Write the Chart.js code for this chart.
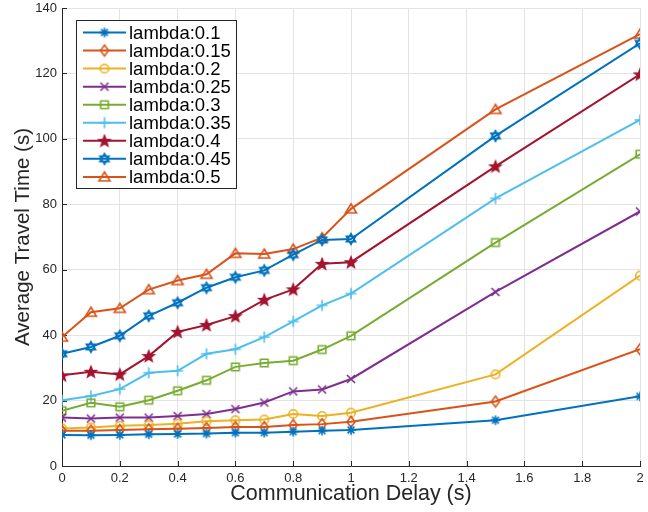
<!DOCTYPE html>
<html>
<head>
<meta charset="utf-8">
<script src="https://cdn.jsdelivr.net/npm/chart.js@4.4.1/dist/chart.umd.min.js"></script>
<style>
  body { margin: 0; background: #fff; }
  #c { display: block; }
</style>
</head>
<body>
<canvas id="c" width="648" height="512"></canvas>
<script>
// Data
const delays = [0, 0.1, 0.2, 0.3, 0.4, 0.5, 0.6, 0.7, 0.8, 0.9, 1.0, 1.5, 2.0];
const lambda010 = [9.5, 9.4, 9.5, 9.7, 9.8, 9.9, 10.2, 10.2, 10.5, 10.8, 11.0, 14.0, 21.3];
const lambda015 = [10.8, 10.8, 11.0, 11.2, 11.4, 11.6, 11.9, 11.9, 12.5, 12.8, 13.5, 19.7, 35.7];
const lambda020 = [11.5, 11.8, 12.3, 12.5, 12.9, 13.7, 14.0, 14.2, 15.9, 15.3, 16.3, 28.0, 58.2];
const lambda025 = [14.8, 14.5, 14.8, 14.8, 15.3, 15.9, 17.4, 19.4, 22.8, 23.4, 26.6, 53.2, 77.8];
const lambda030 = [16.9, 19.3, 18.1, 20.1, 23.0, 26.2, 30.3, 31.5, 32.2, 35.6, 39.8, 68.3, 95.3];
const lambda035 = [20.1, 21.4, 23.5, 28.5, 29.1, 34.3, 35.7, 39.4, 44.2, 49.1, 52.7, 81.8, 105.8];
const lambda040 = [27.7, 28.8, 28.0, 33.6, 41.0, 43.1, 45.8, 50.8, 54.0, 61.8, 62.3, 91.6, 119.7];
const lambda045 = [34.3, 36.4, 39.8, 45.9, 49.9, 54.5, 57.7, 59.8, 64.6, 69.1, 69.4, 100.9, 129.2];
const lambda050 = [39.4, 47.0, 48.2, 53.9, 56.7, 58.6, 65.0, 64.8, 66.3, 69.8, 78.6, 109.0, 132.0];

const seriesLabels = ['lambda:0.1', 'lambda:0.15', 'lambda:0.2', 'lambda:0.25', 'lambda:0.3',
                      'lambda:0.35', 'lambda:0.4', 'lambda:0.45', 'lambda:0.5'];
const seriesValues = [lambda010, lambda015, lambda020, lambda025, lambda030,
                      lambda035, lambda040, lambda045, lambda050];

const xTicks = [0, 0.2, 0.4, 0.6, 0.8, 1, 1.2, 1.4, 1.6, 1.8, 2];
const yTicks = [0, 20, 40, 60, 80, 100, 120, 140];

const colors = ['#0072BD', '#D95319', '#EDB120', '#7E2F8E', '#77AC30',
                '#4DBEEE', '#A2142F', '#0072BD', '#D95319'];
const markers = ['asterisk', 'diamond', 'circle', 'x', 'square', 'plus', 'pentagram', 'hexagram', 'triangle'];

const FONT = '"Liberation Sans", Arial, Helvetica, sans-serif';
const AXIS_COLOR = '#262626';

// MATLAB-like marker sprites
function makeMarker(type, color) {
    const s = 16;
    const cv = document.createElement('canvas');
    cv.width = s; cv.height = s;
    const g = cv.getContext('2d');
    const c = s / 2;
    g.strokeStyle = color;
    g.fillStyle = color;
    g.lineWidth = 1.6;
    g.lineJoin = 'miter';
    g.beginPath();
    if (type === 'asterisk') {
        const r = 4.8;
        for (let k = 0; k < 4; k++) {
            const a = k * Math.PI / 4;
            g.moveTo(c - r * Math.cos(a), c - r * Math.sin(a));
            g.lineTo(c + r * Math.cos(a), c + r * Math.sin(a));
        }
        g.stroke();
    } else if (type === 'diamond') {
        g.moveTo(c, c - 5.5); g.lineTo(c + 4, c); g.lineTo(c, c + 5.5); g.lineTo(c - 4, c); g.closePath();
        g.stroke();
    } else if (type === 'circle') {
        g.arc(c, c, 4.3, 0, Math.PI * 2);
        g.stroke();
    } else if (type === 'x') {
        const r = 4;
        g.moveTo(c - r, c - r); g.lineTo(c + r, c + r);
        g.moveTo(c + r, c - r); g.lineTo(c - r, c + r);
        g.stroke();
    } else if (type === 'square') {
        g.rect(c - 3.8, c - 3.8, 7.6, 7.6);
        g.stroke();
    } else if (type === 'plus') {
        const r = 5.5;
        g.moveTo(c - r, c); g.lineTo(c + r, c);
        g.moveTo(c, c - r); g.lineTo(c, c + r);
        g.stroke();
    } else if (type === 'pentagram') {
        const R = 5.6, r = 2.4;
        for (let k = 0; k < 10; k++) {
            const rad = k % 2 === 0 ? R : r;
            const a = -Math.PI / 2 + k * Math.PI / 5;
            const px = c + rad * Math.cos(a), py = c + 0.5 + rad * Math.sin(a);
            if (k === 0) g.moveTo(px, py); else g.lineTo(px, py);
        }
        g.closePath();
        g.fill();
        g.stroke();
    } else if (type === 'hexagram') {
        const R = 5.3;
        for (let t = 0; t < 2; t++) {
            for (let k = 0; k < 3; k++) {
                const a = -Math.PI / 2 + t * Math.PI / 3 + k * 2 * Math.PI / 3;
                const px = c + R * Math.cos(a), py = c + R * Math.sin(a);
                if (k === 0) g.moveTo(px, py); else g.lineTo(px, py);
            }
            g.closePath();
        }
        g.stroke();
    } else if (type === 'triangle') {
        g.moveTo(c, c - 5); g.lineTo(c + 5.5, c + 4); g.lineTo(c - 5.5, c + 4); g.closePath();
        g.stroke();
    }
    return cv;
}

const markerImgs = markers.map((m, i) => makeMarker(m, colors[i]));

const datasets = seriesLabels.map((label, i) => ({
    label: label,
    data: delays.map((d, j) => ({ x: d, y: seriesValues[i][j] })),
    borderColor: colors[i],
    backgroundColor: colors[i],
    borderWidth: 2,
    pointStyle: markerImgs[i],
    pointRadius: 6,
    tension: 0
}));

// Inward tick marks (MATLAB style)
const innerTicks = {
    id: 'innerTicks',
    beforeDatasetsDraw(chart) {
        const ctx = chart.ctx;
        const xs = chart.scales.x, ys = chart.scales.y;
        const area = chart.chartArea;
        ctx.save();
        ctx.strokeStyle = AXIS_COLOR;
        ctx.lineWidth = 1;
        ctx.beginPath();
        xs.ticks.forEach(t => {
            const px = Math.round(xs.getPixelForValue(t.value)) + 0.5;
            ctx.moveTo(px, area.bottom);
            ctx.lineTo(px, area.bottom - 5);
        });
        ys.ticks.forEach(t => {
            const py = Math.round(ys.getPixelForValue(t.value)) + 0.5;
            ctx.moveTo(area.left, py);
            ctx.lineTo(area.left + 5, py);
        });
        ctx.stroke();
        ctx.restore();
    }
};

// Legend box drawn inside the plot, like MATLAB's 'northwest'
const insideLegend = {
    id: 'insideLegend',
    afterDraw(chart) {
        const ctx = chart.ctx;
        const bx = 76.5, by = 20.5, bw = 160, bh = 168;
        ctx.save();
        ctx.fillStyle = '#fff';
        ctx.fillRect(bx, by, bw, bh);
        ctx.strokeStyle = AXIS_COLOR;
        ctx.lineWidth = 1;
        ctx.strokeRect(bx, by, bw, bh);
        ctx.font = '18.5px ' + FONT;
        ctx.textBaseline = 'middle';
        chart.data.datasets.forEach((ds, i) => {
            const y = 32.5 + i * 18.05;
            ctx.strokeStyle = ds.borderColor;
            ctx.lineWidth = 2;
            ctx.beginPath();
            ctx.moveTo(83, y);
            ctx.lineTo(126, y);
            ctx.stroke();
            const img = ds.pointStyle;
            ctx.drawImage(img, 104.5 - img.width / 2, y - img.height / 2);
            ctx.fillStyle = '#000';
            ctx.fillText(ds.label, 129, y + 1);
        });
        ctx.restore();
    }
};

new Chart(document.getElementById('c'), {
    type: 'line',
    data: { datasets: datasets },
    options: {
        responsive: false,
        animation: false,
        layout: { padding: { top: 7, right: 6, left: 0, bottom: 0 } },
        plugins: {
            legend: { display: false },
            tooltip: { enabled: false }
        },
        scales: {
            x: {
                type: 'linear',
                min: 0,
                max: 2,
                afterBuildTicks: (axis) => { axis.ticks = xTicks.map(v => ({ value: v })); },
                afterFit: (axis) => {
                    axis.height = 46;
                    axis.paddingLeft = 0;
                    axis.paddingRight = 0;
                },
                grid: { color: '#e3e3e3', lineWidth: 1, drawTicks: false },
                border: { color: AXIS_COLOR, width: 1 },
                ticks: {
                    color: AXIS_COLOR,
                    font: { family: FONT, size: 13 },
                    padding: 5,
                    maxRotation: 0,
                    callback: (v) => String(+v.toFixed(1))
                },
                title: {
                    display: true,
                    text: 'Communication Delay (s)',
                    color: AXIS_COLOR,
                    font: { family: FONT, size: 21.5 },
                    padding: { top: 0, bottom: 5 }
                }
            },
            y: {
                type: 'linear',
                min: 0,
                max: 140,
                afterBuildTicks: (axis) => { axis.ticks = yTicks.map(v => ({ value: v })); },
                afterFit: (axis) => {
                    axis.width = 62;
                    axis.paddingTop = 0;
                    axis.paddingBottom = 0;
                },
                grid: { color: '#e3e3e3', lineWidth: 1, drawTicks: false },
                border: { color: AXIS_COLOR, width: 1 },
                ticks: {
                    color: AXIS_COLOR,
                    font: { family: FONT, size: 13 },
                    padding: 5
                },
                title: {
                    display: true,
                    text: 'Average Travel Time (s)',
                    color: AXIS_COLOR,
                    font: { family: FONT, size: 20.5 },
                    padding: { top: 11, bottom: 0 }
                }
            }
        }
    },
    plugins: [innerTicks, insideLegend]
});
</script>
</body>
</html>
